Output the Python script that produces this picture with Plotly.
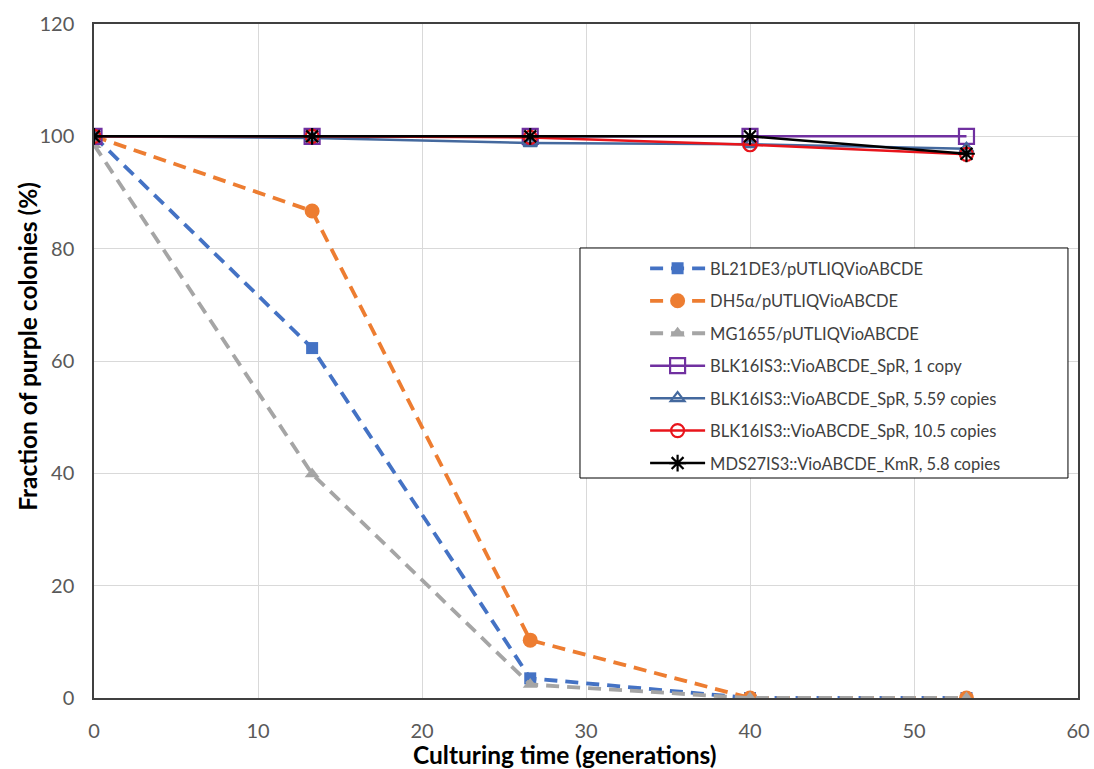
import plotly.graph_objects as go

x_gen = [0, 13.3, 26.6, 40, 53.2]

names = [
    "BL21DE3/pUTLIQVioABCDE",
    "DH5α/pUTLIQVioABCDE",
    "MG1655/pUTLIQVioABCDE",
    "BLK16IS3::VioABCDE_SpR, 1 copy",
    "BLK16IS3::VioABCDE_SpR, 5.59 copies",
    "BLK16IS3::VioABCDE_SpR, 10.5 copies",
    "MDS27IS3::VioABCDE_KmR, 5.8 copies",
]
bl21 = [100, 62.3, 3.5, 0, 0]
dh5a = [100, 86.7, 10.3, 0, 0]
mg1655 = [98.5, 39.9, 2.4, 0, 0]
blk_1 = [100, 100, 100, 100, 100]
blk_559 = [100, 99.7, 98.8, 98.6, 97.8]
blk_105 = [100, 100, 99.8, 98.5, 96.8]
mds27 = [100, 100, 100, 100, 96.9]

x_title = "Culturing time (generations)"
y_title = "Fraction of purple colonies (%)"

series = [bl21, dh5a, mg1655, blk_1, blk_559, blk_105, mds27]
colors = ["#4472C4", "#ED7D31", "#A5A5A5", "#7030A0", "#44699E", "#E8141B", "#000000"]
dashes = ["13px,8px", "13px,8px", "13px,8px", "solid", "solid", "solid", "solid"]
widths = [3.8, 3.8, 3.8, 2.5, 2.5, 2.5, 2.5]
symbols = ["square", "circle", "triangle-up", "square-open", "triangle-up-open", "circle-open", "asterisk-open"]
msizes = [12, 15, 13, 15, 12, 13, 14]

fig = go.Figure()
for i, (nm, ys) in enumerate(zip(names, series)):
    mk = dict(symbol=symbols[i], size=msizes[i], color=colors[i])
    if symbols[i].endswith("open"):
        mk["line"] = dict(color=colors[i], width=2.2)
    fig.add_trace(go.Scatter(
        x=x_gen, y=ys, name=nm, mode="lines+markers",
        line=dict(color=colors[i], width=widths[i], dash=dashes[i]),
        marker=mk, legendgroup=f"g{i}",
    ))

axis_common = dict(
    showline=True, linecolor="#404040", linewidth=1.5, mirror=True,
    showgrid=True, gridcolor="#D9D9D9", gridwidth=1,
    zeroline=False, ticks="", ticklabeloverflow="allow",
    tickfont=dict(family="Lato, Liberation Sans", size=20, color="#595959"),
)

title_font = dict(family="Lato, Liberation Sans", size=24.5, color="#000000")

fig.update_layout(
    width=1094, height=769,
    margin=dict(l=94, r=16, t=24, b=71),
    paper_bgcolor="white", plot_bgcolor="white",
    font=dict(family="Lato, Liberation Sans", color="#000000"),
    xaxis=dict(range=[0, 60], dtick=10, automargin=False, ticklabelstandoff=14,
               **axis_common),
    yaxis=dict(range=[0, 120], dtick=20, automargin=False, ticklabelstandoff=14,
               **axis_common),
    legend=dict(x=0.494, y=0.663, xanchor="left", yanchor="top",
                borderwidth=0, bgcolor="rgba(0,0,0,0)",
                font=dict(family="Lato, Liberation Sans", size=16.5, color="#404040"),
                traceorder="grouped", tracegroupgap=8, indentation=65,
                itemwidth=55),
    shapes=[dict(type="rect", xref="paper", yref="paper",
                 x0=0.4939, x1=0.9898, y0=0.3264, y1=0.6677,
                 line=dict(color="#000000", width=1), fillcolor="white",
                 layer="above")],
    annotations=[
        dict(text=f"<b>{x_title}</b>", xref="paper", yref="paper",
             x=0.479, y=0, xanchor="center", yanchor="top", yshift=-40,
             showarrow=False, font=title_font),
        dict(text=f"<b>{y_title}</b>", xref="paper", yref="paper",
             x=0, y=0.521, xanchor="center", yanchor="middle", xshift=-66,
             textangle=-90, showarrow=False,
             font=dict(family="Lato, Liberation Sans", size=24.5, color="#000000")),
    ],
    showlegend=True,
)

# remove the browser's default 8px body margin so the figure fills the window
fig.write_html("out.html", config={"displayModeBar": False},
               post_script="document.body.style.margin='0';")
